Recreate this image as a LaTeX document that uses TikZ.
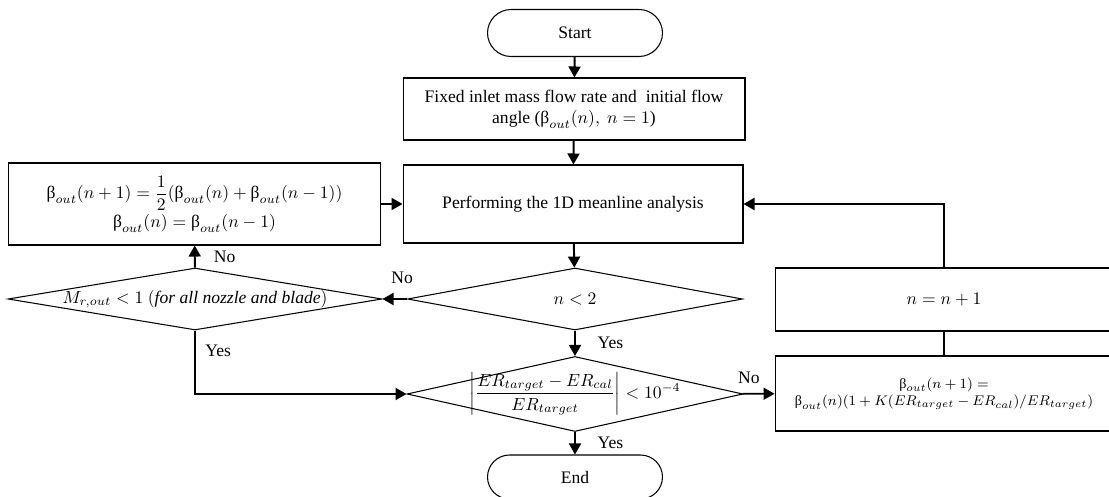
\documentclass[tikz,border=0pt]{standalone}
\usepackage{amsmath}
\usepackage{fontspec}
\setmainfont{Liberation Serif}
\usetikzlibrary{shapes.geometric,shapes.misc,arrows.meta,positioning}
\newcommand{\bt}{\mbox{β}}

\begin{document}
\begin{tikzpicture}[x=0.02cm,y=-0.02cm,font=\fontsize{10}{12}\selectfont,
    term/.style={draw,rounded rectangle,line width=0.6pt,inner sep=0pt},
    proc/.style={draw,rectangle,line width=0.6pt,inner sep=2pt,align=center},
    decision/.style={draw,diamond,line width=0.6pt,inner sep=0pt},
    arr/.style={line width=1.1pt,-{Triangle[length=0.22cm,width=0.24cm]}}]
  \useasboundingbox (0,0) rectangle (1109,497);
  % main column
  \node[term,minimum width=3.5cm,minimum height=0.94cm] (start) at (575,33) {Start};
  \node[proc,minimum width=6.84cm,minimum height=1.24cm] (fix) at (574,109)
    {Fixed inlet mass flow rate and\ \ initial flow\\angle ($\bt_{out}(n),\ n=1$)};
  \node[proc,minimum width=6.8cm,minimum height=1.56cm] (perf) at (573,204)
    {Performing the 1D meanline analysis};
  \node[decision,minimum width=6.7cm,minimum height=1.24cm,
    label=center:{$n<2$}] (few) at (575,299) {};
  \node[decision,minimum width=6.72cm,minimum height=1.5cm,
    label=center:{$\left|\dfrac{ER_{target}-ER_{cal}}{ER_{target}}\right|<10^{-4}$}] (conv) at (575,394) {};
  \node[term,minimum width=3.5cm,minimum height=0.88cm] (end) at (575,477) {End};
  % left branch
  \node[proc,minimum width=7.46cm,minimum height=1.64cm] (avg) at (194.5,204)
    {$\bt_{out}(n+1)=\dfrac{1}{2}(\bt_{out}(n)+\bt_{out}(n-1))$\\[1pt]
     $\bt_{out}(n)=\bt_{out}(n-1)$};
  \node[decision,minimum width=7.48cm,minimum height=1.24cm,
    label=center:{$M_{r,out}<1\ (\mathit{for\ all\ nozzle\ and\ blade})$}] (mach) at (195,299) {};
  % right branch
  \node[proc,minimum width=6.76cm,minimum height=1.26cm] (inc) at (944,299.5) {$n=n+1$};
  \node[proc,minimum width=6.76cm,minimum height=1.5cm,font=\fontsize{8}{10}\selectfont] (corr) at (944,393.5)
    {$\bt_{out}(n+1)=$\\$\bt_{out}(n)(1+K(ER_{target}-ER_{cal})/ER_{target})$};

  \path[arr]
    (start) edge (fix)
    (fix) edge (perf)
    (perf) edge (few)
    (few) edge node[pos=0.2,above=5pt] {No} (mach)
    (mach) edge node[right=7pt] {No} (avg)
    (avg) edge (perf)
    (few) edge node[right=9pt] {Yes} (conv)
    (conv) edge node[pos=0.2,above=2pt] {No} (corr)
    (conv) edge node[right=9pt] {Yes} (end);
  \draw[arr] (mach.south) |- node[pos=0.16,right=2pt] {Yes} (conv.west);
  \draw[line width=0.6pt] (corr) -- (inc);
  \draw[arr] (inc.north) |- (perf.east);
\end{tikzpicture}
\end{document}
